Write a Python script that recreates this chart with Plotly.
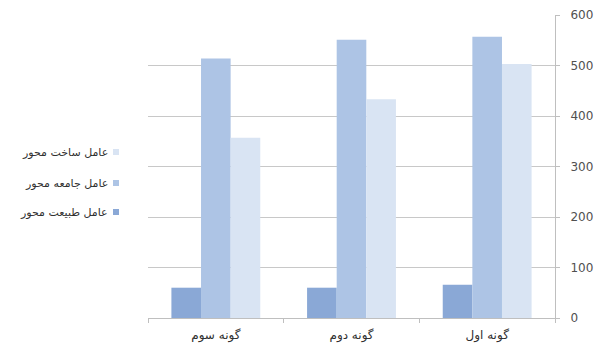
import plotly.graph_objects as go

categories = ["گونه سوم", "گونه دوم", "گونه اول"]
series_names = ["عامل طبیعت محور", "عامل جامعه محور", "عامل ساخت محور"]
nature = [60, 60, 66]
society = [514, 551, 557]
built = [357, 433, 503]
series_values = [nature, society, built]
colors = ["#8aa8d6", "#adc4e5", "#d9e4f3"]
y_ticks = [0, 100, 200, 300, 400, 500, 600]

fig = go.Figure()
for name, vals, col in zip(series_names, series_values, colors):
    fig.add_trace(go.Bar(x=categories, y=vals, name=name, marker=dict(color=col, line=dict(width=0)),
                         showlegend=False))

# custom legend (RTL: marker to the right of the text)
L, R, T, B = 148, 555, 15, 318
legend_order = [2, 1, 0]
legend_y = [152, 183, 212]
for idx, yy in zip(legend_order, legend_y):
    yp = (B - yy) / (B - T)
    fig.add_annotation(xref="paper", yref="paper", x=(110 - L) / (R - L), y=yp,
                       xanchor="right", yanchor="middle",
                       text=series_names[idx], showarrow=False,
                       font=dict(size=11, color="#303030", family="DejaVu Sans"))
    fig.add_shape(type="rect", xref="paper", yref="paper",
                  x0=(113 - L) / (R - L), x1=(119 - L) / (R - L),
                  y0=yp - 3 / (B - T), y1=yp + 3 / (B - T),
                  fillcolor=colors[idx], line=dict(width=0))

fig.update_layout(
    width=598, height=354,
    margin=dict(l=L, r=598 - R, t=T, b=354 - B),
    paper_bgcolor="white", plot_bgcolor="white",
    barmode="group", bargap=0.345, bargroupgap=0,
    xaxis=dict(showline=True, linecolor="#bfbfbf", linewidth=1, ticks="outside", tickson="boundaries",
               ticklen=4, tickcolor="#bfbfbf", showgrid=False, ticklabelstandoff=6, automargin=False,
               tickfont=dict(size=12, color="#303030", family="DejaVu Sans")),
    yaxis=dict(side="right", range=[0, 600], tickvals=y_ticks, showline=True, linecolor="#bfbfbf",
               linewidth=1, ticks="outside", ticklen=4, tickcolor="#bfbfbf", ticklabelstandoff=8,
               showgrid=True, gridcolor="#c8c8c8", gridwidth=1, zeroline=False, automargin=False,
               tickfont=dict(size=12, color="#505050", family="DejaVu Sans")),
)
fig.write_html("out.html")
